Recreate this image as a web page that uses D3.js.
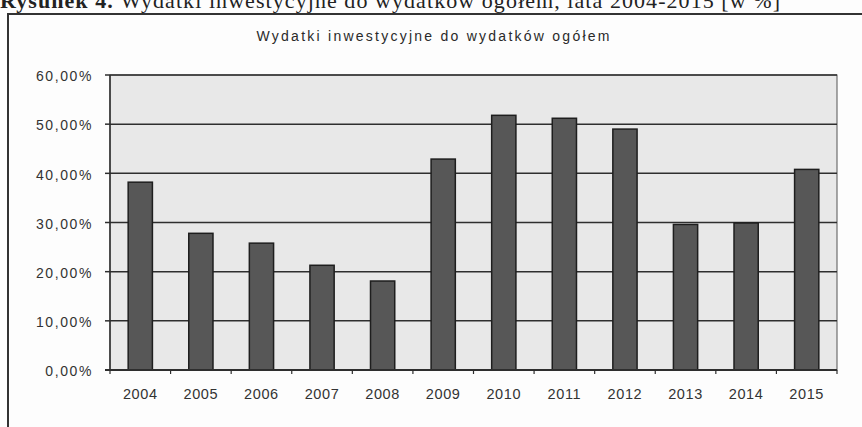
<!DOCTYPE html>
<head>
    <meta charset="utf-8">
    <style>
        body {
            margin: 0;
            padding: 0;
            background: #fdfdfd;
        }
        .ytick text, .xtick text {
            font-family: "Liberation Sans", Arial, sans-serif;
            fill: #333;
        }
        .title {
            font-family: "Liberation Sans", Arial, sans-serif;
            font-size: 14px;
            fill: #2a2a2a;
        }
        .caption {
            font-family: "Liberation Serif", "Times New Roman", serif;
            font-size: 22px;
            fill: #222;
        }
    </style>
    <script src="https://d3js.org/d3.v7.min.js"></script>
</head>
<body>
    <svg width="862" height="427"></svg>
    <script>
        // data
        var years = ["2004", "2005", "2006", "2007", "2008", "2009", "2010", "2011", "2012", "2013", "2014", "2015"];
        var shares = [38.2, 27.8, 25.8, 21.3, 18.1, 42.9, 51.8, 51.2, 49.0, 29.6, 29.9, 40.8];
        var yTicks = [0, 10, 20, 30, 40, 50, 60];

        var svg = d3.select("svg");

        // plot area
        var plotLeft = 110, plotRight = 837, plotTop = 75, plotBottom = 370;

        var x = d3.scaleBand()
            .domain(years)
            .range([plotLeft, plotRight])
            .paddingInner(0.6)
            .paddingOuter(0.3);

        var y = d3.scaleLinear()
            .domain([0, 60])
            .range([plotBottom, plotTop]);

        // cut-off caption at the top of the scan
        var cap = svg.append("text")
            .attr("class", "caption")
            .attr("x", 0)
            .attr("y", 8)
            .attr("textLength", 780);
        cap.append("tspan").attr("font-weight", "bold").text("Rysunek 4. ");
        cap.append("tspan").text("Wydatki inwestycyjne do wydatków ogółem, lata 2004-2015 [w %]");

        // outer frame
        svg.append("path")
            .attr("d", "M8,440 V14 H870")
            .attr("fill", "none")
            .attr("stroke", "#333")
            .attr("stroke-width", 2);

        // title
        svg.append("text")
            .attr("class", "title")
            .attr("x", 433)
            .attr("y", 41)
            .attr("text-anchor", "middle")
            .attr("textLength", 353)
            .text("Wydatki inwestycyjne do wydatków ogółem");

        // background
        svg.append("rect")
            .attr("x", plotLeft)
            .attr("y", plotTop)
            .attr("width", plotRight - plotLeft)
            .attr("height", plotBottom - plotTop)
            .attr("fill", "#e8e8e8")
            .attr("stroke", "#555")
            .attr("stroke-width", 1);

        // gridlines + y labels
        var yt = svg.append("g").attr("class", "ytick")
            .selectAll("g")
            .data(yTicks)
            .enter().append("g")
            .attr("transform", function (d) { return "translate(0," + y(d) + ")"; });
        yt.filter(function (d) { return d > 0; })
            .append("line")
            .attr("x1", plotLeft)
            .attr("x2", plotRight)
            .attr("stroke", "#2e2e2e")
            .attr("stroke-width", 1.5);
        yt.append("line")
            .attr("x1", plotLeft - 5)
            .attr("x2", plotLeft)
            .attr("stroke", "#2e2e2e")
            .attr("stroke-width", 1.5);
        yt.append("text")
            .attr("x", 93)
            .attr("dy", "0.45em")
            .attr("text-anchor", "end")
            .attr("font-size", "14px")
            .attr("letter-spacing", "1.6px")
            .text(function (d) { return d.toFixed(2).replace(".", ",") + "%"; });

        // bars
        svg.append("g")
            .selectAll("rect")
            .data(shares)
            .enter().append("rect")
                .attr("x", function (d, i) { return x(years[i]); })
                .attr("y", function (d) { return y(d); })
                .attr("width", x.bandwidth())
                .attr("height", function (d) { return y(0) - y(d); })
                .attr("fill", "#575757")
                .attr("stroke", "#1e1e1e")
                .attr("stroke-width", 1.5);

        // axis lines
        svg.append("line")
            .attr("x1", plotLeft).attr("x2", plotLeft)
            .attr("y1", plotTop).attr("y2", plotBottom)
            .attr("stroke", "#2e2e2e").attr("stroke-width", 1.5);
        svg.append("line")
            .attr("x1", plotLeft - 5).attr("x2", plotRight)
            .attr("y1", plotBottom).attr("y2", plotBottom)
            .attr("stroke", "#2e2e2e").attr("stroke-width", 2);

        // x ticks at category boundaries + labels
        var step = x.step();
        var xt = svg.append("g").attr("class", "xtick");
        xt.selectAll("line")
            .data(d3.range(years.length + 1))
            .enter().append("line")
            .attr("x1", function (i) { return plotLeft + i * step; })
            .attr("x2", function (i) { return plotLeft + i * step; })
            .attr("y1", plotBottom)
            .attr("y2", plotBottom + 4)
            .attr("stroke", "#2e2e2e")
            .attr("stroke-width", 1.2);
        xt.selectAll("text")
            .data(years)
            .enter().append("text")
            .attr("x", function (d) { return x(d) + x.bandwidth() / 2; })
            .attr("y", 399)
            .attr("text-anchor", "middle")
            .attr("font-size", "14.5px")
            .attr("letter-spacing", "0.6px")
            .text(function (d) { return d; });
    </script>
</body>
</html>
